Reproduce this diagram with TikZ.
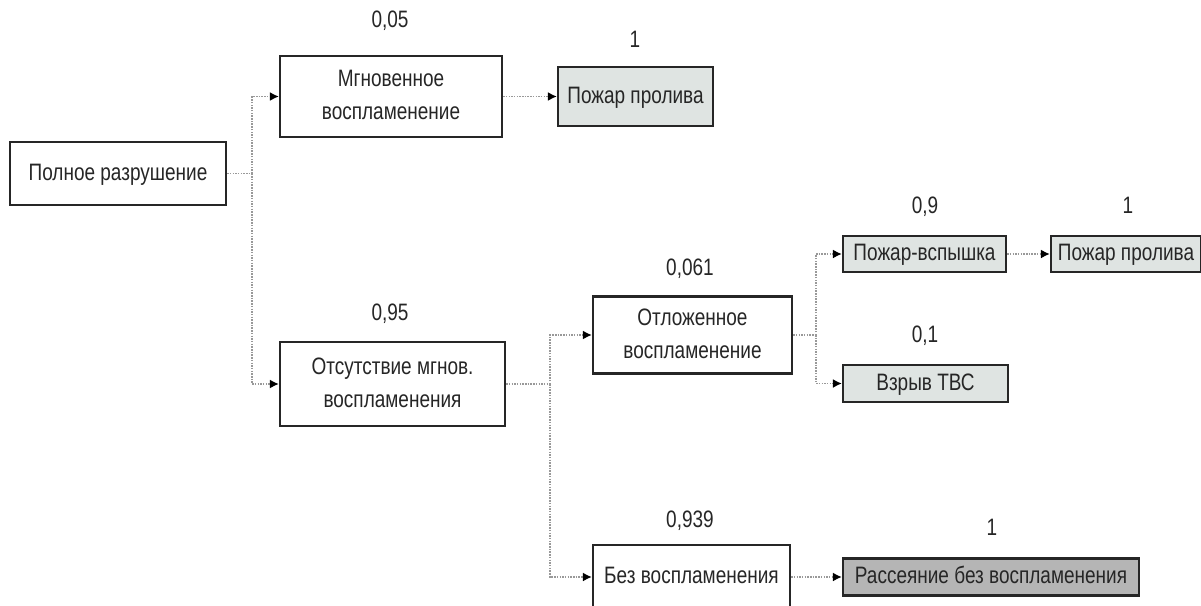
\documentclass[tikz,border=0pt]{standalone}
\usepackage{graphicx}
\usepackage{fontspec}
\setmainfont{Liberation Sans}
\usetikzlibrary{arrows.meta}
\definecolor{lightfill}{HTML}{DFE4E2}
\definecolor{darkfill}{HTML}{B5B5B5}
% text set slightly taller than wide, as in the tree
\newcommand\vtext[1]{\scalebox{1}[1.25]{\begin{tabular}{@{}c@{}}#1\end{tabular}}}
\begin{document}
\begin{tikzpicture}[x=1pt,y=-1pt,
  box/.style={draw=black!85, line width=2.2pt, inner sep=0pt,
              font=\fontsize{19}{26.4}\selectfont, text=black!85},
  plain/.style={box, fill=white},
  light/.style={box, fill=lightfill},
  dark/.style={box, fill=darkfill},
  prob/.style={font=\fontsize{19}{22}\selectfont, inner sep=0pt, text=black!85},
  bare/.style={draw=gray!80, line width=1.7pt, dash pattern=on 1.5pt off 1.2pt},
  link/.style={bare, -{Latex[length=9pt,width=9pt,black]}}]
\useasboundingbox (0,0) rectangle (1201,605);
\clip (0,0) rectangle (1201,605);

% event boxes
\node[plain, minimum width=216pt, minimum height=63pt] (b1) at (118,173.5) {\vtext{Полное разрушение}};
\node[plain, minimum width=222pt, minimum height=81pt] (b2) at (391,96.5) {\vtext{Мгновенное\\воспламенение}};
\node[light, minimum width=155pt, minimum height=59pt] (b3) at (635.5,96.5) {\vtext{Пожар пролива}};
\node[plain, minimum width=225pt, minimum height=84pt] (b4) at (392.5,384) {\vtext{Отсутствие мгнов.\\воспламенения}};
\node[plain, minimum width=199pt, minimum height=77pt] (b5) at (692.5,335) {\vtext{Отложенное\\воспламенение}};
\node[light, minimum width=163pt, minimum height=36pt] (b6) at (924.5,254) {\vtext{Пожар-вспышка}};
\node[light, minimum width=150pt, minimum height=36pt] (b7) at (1126,254) {\vtext{Пожар пролива}};
\node[light, minimum width=165pt, minimum height=37pt] (b8) at (925.5,383.5) {\vtext{Взрыв ТВС}};
\node[plain, minimum width=197pt, minimum height=64pt] (b9) at (691.5,577) {\vtext{Без воспламенения}};
\node[dark, minimum width=296pt, minimum height=37pt] (b10) at (991,577) {\vtext{Рассеяние без воспламенения}};

% probabilities
\node[prob] (p2) at (390,22) {\vtext{0,05}};
\node[prob] (p3) at (635,42) {\vtext{1}};
\node[prob] (p4) at (390,315) {\vtext{0,95}};
\node[prob] (p5) at (690,270) {\vtext{0,061}};
\node[prob] (p6) at (925,208) {\vtext{0,9}};
\node[prob] (p7) at (1128,208) {\vtext{1}};
\node[prob] (p8) at (925,337) {\vtext{0,1}};
\node[prob] (p9) at (690,522) {\vtext{0,939}};
\node[prob] (p10) at (992,530) {\vtext{1}};

% branch points
\coordinate (j1) at (252,173.5);
\coordinate (j2) at (550,384);
\coordinate (j3) at (816,335);

% connectors
\draw[bare] (b1.east) -- (j1);
\draw[link] (j1) |- (b2.west);
\draw[link] (j1) |- (b4.west);
\draw[link] (b2.east) -- (b3.west);
\draw[bare] (b4.east) -- (j2);
\draw[link] (j2) |- (b5.west);
\draw[link] (j2) |- (b9.west);
\draw[bare] (b5.east) -- (j3);
\draw[link] (j3) |- (b6.west);
\draw[link] (j3) |- (b8.west);
\draw[link] (b6.east) -- (b7.west);
\draw[link] (b9.east) -- (b10.west);
\end{tikzpicture}
\end{document}
